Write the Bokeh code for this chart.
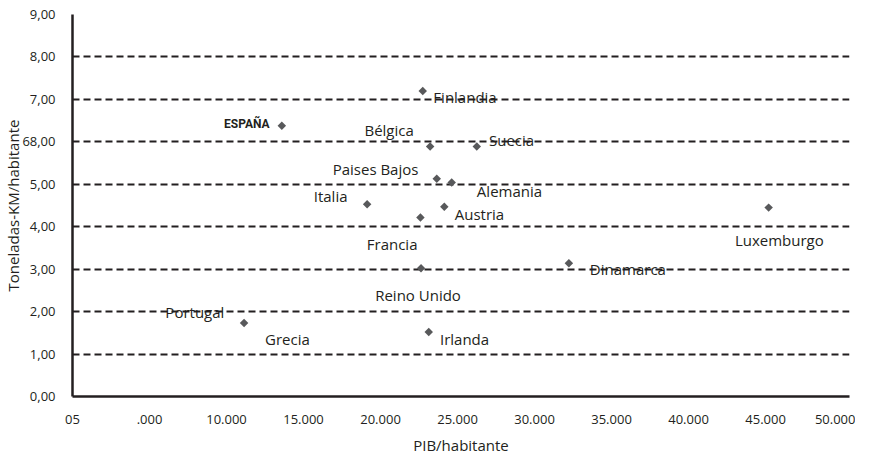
import math
from bokeh.plotting import figure
from bokeh.models import FixedTicker, ColumnDataSource, Range1d
from bokeh.embed import file_html
from bokeh.resources import INLINE

# ---- data ----
countries = ["Finlandia", "ESPAÑA", "Bélgica", "Suecia", "Paises Bajos", "Alemania",
             "Italia", "Austria", "Francia", "Luxemburgo", "Reino Unido", "Dinamarca",
             "Portugal", "Grecia", "Irlanda"]
pib_hab = [22740, 13590, 23220, 26250, 23650, 24620, 19130, 24140, 22590, 45200,
           22630, 32230, 10120, 11140, 23130]
tkm_hab = [7.20, 6.38, 5.89, 5.89, 5.13, 5.04, 4.53, 4.47, 4.22, 4.45,
           3.02, 3.14, 2.09, 1.73, 1.52]

x_ticks = [0, 5000, 10000, 15000, 20000, 25000, 30000, 35000, 40000, 45000, 50000]
x_tick_labels = ["05", ".000", "10.000", "15.000", "20.000", "25.000", "30.000",
                 "35.000", "40.000", "45.000", "50.000"]
y_ticks = [0, 1, 2, 3, 4, 5, 6, 7, 8, 9]
y_tick_labels = ["0,00", "1,00", "2,00", "3,00", "4,00", "5,00", "68,00", "7,00", "8,00", "9,00"]
grid_levels = [1, 2, 3, 4, 5, 6, 7, 8]

# ---- label placement (screen px offsets, styles) ----
label_dx = [42.3, -35, -41, 34.8, -61.2, 57.8, -36.5, 35.2, -28.3, 10.7, -3, 59, -33.5, 43.3, 35.8]
label_dy = [6, -1.7, -16.7, -6.7, -10, 8.4, -8.7, 7.7, 26.7, 32.7, 26.7, 5.7, 4.3, 16.4, 6.7]
label_font = ["Open Sans"] * len(countries)
label_font[1] = "Roboto"
label_style = ["normal"] * len(countries)
label_style[1] = "bold"
label_size = ["15px"] * len(countries)
label_size[1] = "12px"
marker_alpha = [1.0] * len(countries)
marker_alpha[12] = 0.0  # Portugal marker hidden under its label in the original

src = ColumnDataSource(dict(x=pib_hab, y=tkm_hab, name=countries, dx=label_dx, dy=label_dy,
                            font=label_font, style=label_style, size=label_size,
                            alpha=marker_alpha))

INK = "#231f20"

p = figure(width=855, height=457, output_backend="svg", toolbar_location=None,
           x_range=Range1d(0, 50450), y_range=Range1d(0, 9),
           min_border_left=72, min_border_right=6, min_border_top=14, min_border_bottom=59)
p.outline_line_color = None
p.background_fill_color = "white"
p.border_fill_color = "white"

p.xgrid.visible = False
p.ygrid.ticker = FixedTicker(ticks=grid_levels)
p.ygrid.grid_line_color = INK
p.ygrid.grid_line_width = 2.2
p.ygrid.grid_line_dash = "7 4"

for ax in (p.xaxis[0], p.yaxis[0]):
    ax.axis_line_color = INK
    ax.axis_line_width = 2.5
    ax.major_tick_line_color = None
    ax.minor_tick_line_color = None
    ax.major_label_text_font = "Open Sans"
    ax.major_label_text_font_size = "13px"
    ax.major_label_text_color = INK
    ax.axis_label_text_font = "Open Sans"
    ax.axis_label_text_font_size = "15px"
    ax.axis_label_text_font_style = "normal"
    ax.axis_label_text_color = INK

p.xaxis.ticker = FixedTicker(ticks=x_ticks)
p.xaxis.major_label_overrides = dict(zip(x_ticks, x_tick_labels))
p.xaxis.major_label_standoff = 12
p.xaxis.axis_label = "PIB/habitante"
p.xaxis.axis_label_standoff = 8

p.yaxis.ticker = FixedTicker(ticks=y_ticks)
p.yaxis.major_label_overrides = dict(zip(y_ticks, y_tick_labels))
p.yaxis.major_label_standoff = 11
p.yaxis.axis_label = "Toneladas-KM/habitante"
p.yaxis.axis_label_standoff = -4

p.scatter(x="x", y="y", source=src, marker="square", size=6, angle=math.pi / 4,
          fill_color="#58595b", line_color=None, fill_alpha="alpha")

p.text(x="x", y="y", text="name", source=src, x_offset="dx", y_offset="dy",
       text_font="font", text_font_style="style", text_font_size="size",
       text_align="center", text_baseline="alphabetic", text_color=INK)

open("out.html", "w").write(file_html(p, INLINE))
